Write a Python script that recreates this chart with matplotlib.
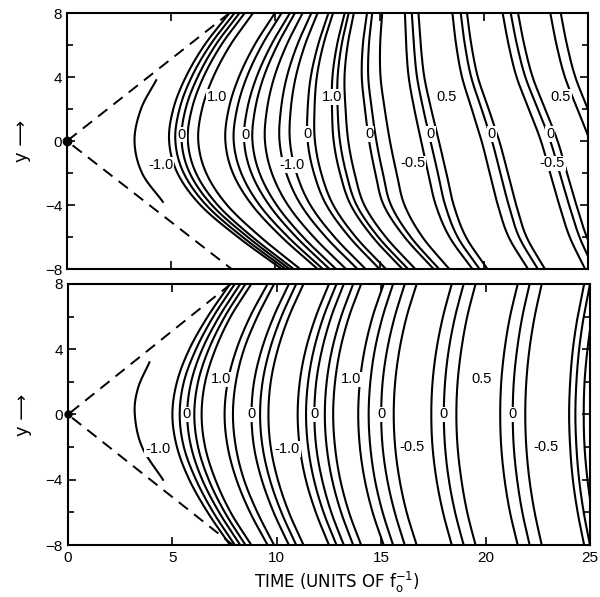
import numpy as np
import matplotlib
matplotlib.use("Agg")
import matplotlib.pyplot as plt

plt.rcParams['font.family'] = ['Liberation Sans', 'DejaVu Sans']

# ---------------- top panel ----------------
# rows (y) at which the time position of every contour line was read
TOP_ROWS = [8, 6, 4, 2, 0, -2, -4, -6, -8]
TOP_Y8 = [7.8, 8.04, 8.28, 8.53, 8.93, 9.98, 10.3, 10.7, 10.94, 11.31, 11.73, 12.03, 12.55, 12.77, 13.33, 13.52, 13.77, 14.4, 14.65, 15.13, 16.22, 16.55, 16.87, 18.5, 18.9, 19.2, 20.91, 21.3, 21.65, 23.2, 23.7]
TOP_Y6 = [6.6, 6.87, 7.13, 7.4, 7.84, 9.0, 9.36, 9.8, 10.1, 10.54, 11.05, 11.42, 12.05, 12.3, 12.96, 13.18, 13.47, 14.2, 14.49, 15.03, 16.28, 16.65, 16.98, 18.68, 19.1, 19.41, 21.2, 21.6, 21.95, 23.5, 24.0]
TOP_Y4 = [5.7, 5.98, 6.27, 6.55, 7.02, 8.25, 8.63, 9.1, 9.44, 9.95, 10.55, 10.98, 11.7, 11.99, 12.74, 12.99, 13.32, 14.15, 14.46, 15.05, 16.4, 16.8, 17.15, 18.96, 19.4, 19.72, 21.58, 22.0, 22.35, 23.9, 24.4]
TOP_Y2 = [5.1, 5.4, 5.69, 5.99, 6.48, 7.76, 8.16, 8.65, 9.03, 9.6, 10.27, 10.74, 11.55, 11.88, 12.72, 12.99, 13.37, 14.3, 14.63, 15.25, 16.67, 17.1, 17.48, 19.43, 19.9, 20.24, 22.17, 22.6, 22.95, 24.5, 25.0]
TOP_Y0 = [4.9, 5.2, 5.5, 5.8, 6.3, 7.6, 8.0, 8.5, 8.9, 9.5, 10.2, 10.7, 11.55, 11.9, 12.8, 13.1, 13.5, 14.5, 14.85, 15.5, 17.0, 17.45, 17.85, 19.9, 20.4, 20.75, 22.75, 23.2, 23.55, 25.1, 25.6]
TOP_YM2 = [5.3, 5.6, 5.89, 6.19, 6.68, 7.96, 8.36, 8.85, 9.24, 9.83, 10.52, 11.01, 11.85, 12.2, 13.1, 13.4, 13.8, 14.8, 15.16, 15.82, 17.34, 17.8, 18.21, 20.29, 20.8, 21.16, 23.19, 23.65, 24.0, 25.55, 26.05]
TOP_YM4 = [6.4, 6.68, 6.95, 7.23, 7.68, 8.88, 9.24, 9.7, 10.06, 10.6, 11.23, 11.68, 12.45, 12.78, 13.62, 13.9, 14.27, 15.2, 15.55, 16.2, 17.7, 18.15, 18.56, 20.68, 21.2, 21.56, 23.63, 24.1, 24.45, 26.0, 26.5]
TOP_YM6 = [8.2, 8.43, 8.67, 8.9, 9.29, 10.3, 10.61, 11.0, 11.33, 11.84, 12.42, 12.84, 13.55, 13.86, 14.67, 14.94, 15.3, 16.2, 16.5, 17.06, 18.36, 18.75, 19.15, 21.2, 21.7, 22.06, 24.13, 24.6, 24.95, 26.5, 27.0]
TOP_YM8 = [10.3, 10.49, 10.68, 10.88, 11.19, 12.03, 12.28, 12.6, 12.91, 13.39, 13.94, 14.33, 15.0, 15.31, 16.1, 16.37, 16.72, 17.6, 17.86, 18.35, 19.46, 19.8, 20.18, 22.13, 22.6, 22.94, 24.87, 25.3, 25.65, 27.2, 27.7]
# short first contour (-1.0)
TOP_A_T = [4.28, 3.55, 3.24, 3.6, 4.6]
TOP_A_Y = [3.8, 2.0, 0.0, -2.0, -3.8]

# ---------------- bottom panel ----------------
BOT_ROWS = [8, 6, 4, 2, 0, -2, -4, -6, -8]
BOT_Y0 = [5.0, 5.35, 5.71, 6.05, 6.4, 7.5, 7.9, 8.79, 9.2, 9.6, 11.0, 11.4, 11.8, 12.3, 12.7, 13.9, 14.4, 15.0, 15.6, 17.4, 18.0, 18.6, 20.7, 21.3, 21.9, 24.0, 24.3, 24.7]
BOT_Y2 = [5.22, 5.55, 5.9, 6.23, 6.57, 7.65, 8.04, 8.91, 9.32, 9.71, 11.1, 11.5, 11.89, 12.39, 12.79, 13.98, 14.48, 15.07, 15.67, 17.46, 18.06, 18.66, 20.75, 21.35, 21.95, 24.05, 24.35, 24.74]
BOT_Y4 = [5.81, 6.13, 6.43, 6.74, 7.06, 8.07, 8.43, 9.28, 9.67, 10.05, 11.39, 11.78, 12.17, 12.65, 13.04, 14.21, 14.7, 15.29, 15.88, 17.65, 18.24, 18.84, 20.91, 21.51, 22.1, 24.18, 24.48, 24.88]
BOT_Y6 = [6.69, 6.96, 7.24, 7.51, 7.79, 8.72, 9.07, 9.85, 10.22, 10.58, 11.87, 12.24, 12.61, 13.08, 13.46, 14.59, 15.07, 15.65, 16.22, 17.96, 18.54, 19.12, 21.17, 21.76, 22.35, 24.41, 24.7, 25.1]
BOT_Y8 = [7.76, 7.99, 8.25, 8.5, 8.78, 9.56, 9.87, 10.58, 10.93, 11.28, 12.5, 12.86, 13.21, 13.66, 14.04, 15.12, 15.57, 16.13, 16.7, 18.38, 18.95, 19.52, 21.54, 22.11, 22.69, 24.72, 25.0, 25.4]
BOT_A_T = [3.9, 3.35, 3.2, 3.55, 4.55]
BOT_A_Y = [3.2, 1.6, 0.0, -2.0, -4.0]

# wave-front (dashed) end points
FRONT_T = [7.8, 0.0, 7.9]
FRONT_Y = [8.0, 0.0, -8.0]

# contour labels: text, t, y
TOP_LABELS = [("-1.0", 4.5, -1.5), ("1.0", 7.2, 2.75), ("0", 5.5, 0.4), ("0", 8.55, 0.4),
              ("-1.0", 10.8, -1.5), ("0", 11.55, 0.45), ("1.0", 12.7, 2.75), ("0", 14.5, 0.45),
              ("-0.5", 16.6, -1.4), ("0", 17.45, 0.45), ("0.5", 18.2, 2.75), ("0", 20.4, 0.45),
              ("0", 23.2, 0.45), ("-0.5", 23.3, -1.4), ("0.5", 23.7, 2.75)]
BOT_LABELS = [("-1.0", 4.3, -2.1), ("1.0", 7.35, 2.15), ("0", 5.7, 0.0), ("0", 8.8, 0.0),
              ("-1.0", 10.5, -2.1), ("0", 11.8, 0.0), ("1.0", 13.55, 2.15), ("0", 15.0, 0.0),
              ("-0.5", 16.5, -2.0), ("0", 18.0, 0.0), ("0.5", 19.8, 2.15), ("0", 21.3, 0.0),
              ("-0.5", 22.9, -2.0)]

X_TICKS = [0, 5, 10, 15, 20, 25]
Y_TICKS = [-8, -4, 0, 4, 8]
Y_MINOR = [-6, -2, 2, 6]


def smooth(ts, ys, n=24):
    """Catmull-Rom curve through the read points (rendering only)."""
    P = np.column_stack([ts, ys]).astype(float)
    P = np.vstack([2 * P[0] - P[1], P, 2 * P[-1] - P[-2]])
    out = []
    s = np.linspace(0, 1, n, endpoint=False)[:, None]
    for i in range(1, len(P) - 2):
        p0, p1, p2, p3 = P[i - 1], P[i], P[i + 1], P[i + 2]
        seg = 0.5 * ((2 * p1) + (-p0 + p2) * s + (2 * p0 - 5 * p1 + 4 * p2 - p3) * s ** 2
                     + (-p0 + 3 * p1 - 3 * p2 + p3) * s ** 3)
        out.append(seg)
    out.append(P[-2][None, :])
    out = np.vstack(out)
    return out[:, 0], out[:, 1]


def draw_panel(ax, rows, row_y, a_t, a_y, labels):
    for cols in zip(*rows):
        t, y = smooth(list(cols), row_y)
        ax.plot(t, y, color='black', lw=1.5, solid_capstyle='butt')
    t, y = smooth(a_t, a_y)
    ax.plot(t, y, color='black', lw=1.5)
    ax.plot(FRONT_T, FRONT_Y, color='black', lw=1.4, dashes=(6, 4))
    for s, tx, ty in labels:
        ax.text(tx, ty, s, ha='center', va='center', fontsize=10.5,
                bbox=dict(fc='white', ec='none', pad=0.6), zorder=5)
    ax.set_xlim(0, 25)
    ax.set_ylim(-8, 8)
    ax.set_xticks(X_TICKS)
    ax.set_yticks(Y_TICKS)
    ax.set_yticks(Y_MINOR, minor=True)
    ax.tick_params(direction='in', which='both', top=True, right=True, length=6, width=1.2,
                   labelsize=11)
    ax.tick_params(axis='x', pad=4)
    ax.tick_params(which='minor', length=4)
    for sp in ax.spines.values():
        sp.set_linewidth(1.5)
    ax.set_ylabel('y ⟶', fontsize=13, labelpad=10, family=['DejaVu Sans'])


fig = plt.figure(figsize=(6.0, 5.97), dpi=100)
ax1 = fig.add_axes([0.1117, 0.5494, 0.868, 0.4288])
ax2 = fig.add_axes([0.1133, 0.0871, 0.870, 0.4372])

draw_panel(ax1, [TOP_Y8, TOP_Y6, TOP_Y4, TOP_Y2, TOP_Y0, TOP_YM2, TOP_YM4, TOP_YM6, TOP_YM8],
           TOP_ROWS, TOP_A_T, TOP_A_Y, TOP_LABELS)
draw_panel(ax2, [BOT_Y8, BOT_Y6, BOT_Y4, BOT_Y2, BOT_Y0, BOT_Y2, BOT_Y4, BOT_Y6, BOT_Y8],
           BOT_ROWS, BOT_A_T, BOT_A_Y, BOT_LABELS)
ax1.set_xticklabels([])
ax1.plot([0], [0], 'o', color='black', ms=6, clip_on=False, zorder=6)
ax2.plot([0], [0], 'o', color='black', ms=5, clip_on=False, zorder=6)
fig.text(0.562, 0.004, r'TIME (UNITS OF $\mathregular{f_o^{-1}}$)', fontsize=12,
         ha='center', va='bottom', family=['DejaVu Sans'])

fig.savefig('out.png', dpi=100)
